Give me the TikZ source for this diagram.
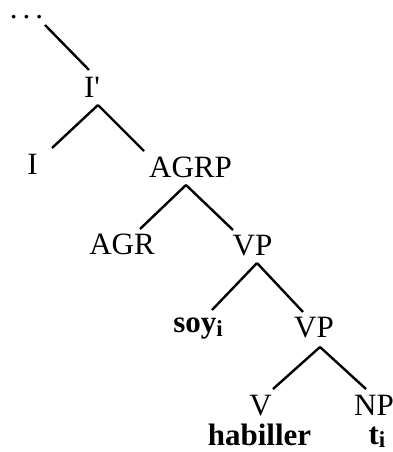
\documentclass[tikz,border=0pt]{standalone}
\usepackage{fontspec}
\setmainfont{Liberation Serif}

\begin{document}
\begin{tikzpicture}[x=1pt,y=-1pt,line width=2.4pt,
  every node/.style={inner sep=0pt,anchor=base,font=\fontsize{31}{31}\selectfont},
  lex/.style={font=\fontsize{31}{31}\selectfont\bfseries}]
  \useasboundingbox (0,0) rectangle (393,452);

  \node (top) at (26.5,19) {.\kern5pt.\kern5pt.};
  \node (Ip) at (92,97) {I\textquotesingle};
  \node (I) at (32.5,174) {I};
  \node (agrp) at (190.5,177) {AGRP};
  \node (agr) at (122,254) {AGR};
  \node (vp1) at (252.5,255) {VP};
  \node [lex] (soy) at (198,332) {soy\raisebox{-4pt}{\fontsize{23}{23}\selectfont i}};
  \node (vp2) at (314,337) {VP};
  \node (v) at (260.5,415) {V};
  \node (np) at (374,415) {NP};
  \node [lex] (hab) at (259.5,445) {habiller};
  \node [lex] (t) at (377,444) {t\raisebox{-3pt}{\fontsize{23}{23}\selectfont i}};

  \draw ([xshift=18.5pt,yshift=-6pt]top.base) -- ([xshift=-3pt,yshift=27pt]Ip.base);

  \draw ([xshift=6pt,yshift=-8pt]Ip.base) -- ([xshift=19.5pt,yshift=26pt]I.base);
  \draw ([xshift=6pt,yshift=-8pt]Ip.base) -- ([xshift=-46.5pt,yshift=26pt]agrp.base);

  \draw ([xshift=-4.5pt,yshift=-8pt]agrp.base) -- ([xshift=18pt,yshift=25pt]agr.base);
  \draw ([xshift=-4.5pt,yshift=-8pt]agrp.base) -- ([xshift=-19.5pt,yshift=25pt]vp1.base);

  \draw ([xshift=4.5pt,yshift=-8pt]vp1.base) -- ([xshift=14pt,yshift=22pt]soy.base);
  \draw ([xshift=4.5pt,yshift=-8pt]vp1.base) -- ([xshift=-11pt,yshift=25pt]vp2.base);

  \draw ([xshift=6pt,yshift=-10pt]vp2.base) -- ([xshift=12.5pt,yshift=26pt]v.base);
  \draw ([xshift=6pt,yshift=-10pt]vp2.base) -- ([xshift=-8pt,yshift=26pt]np.base);
\end{tikzpicture}
\end{document}
